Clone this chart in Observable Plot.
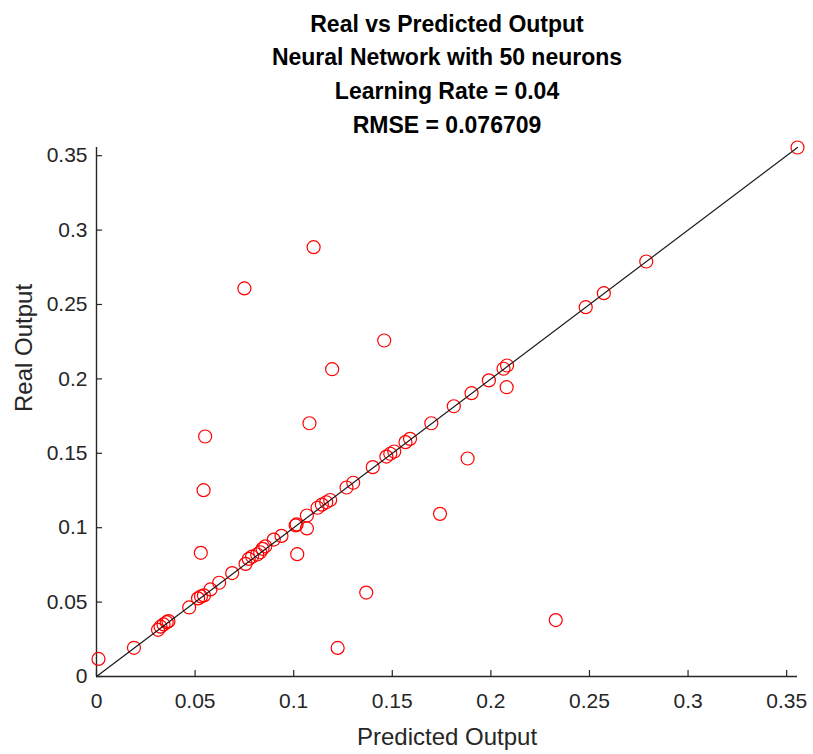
<!DOCTYPE html>
<html>
<head>
<meta charset="utf-8">
<script src="https://cdn.jsdelivr.net/npm/d3@7"></script>
<script src="https://cdn.jsdelivr.net/npm/@observablehq/plot@0.6"></script>
<style>
  html, body { margin: 0; padding: 0; background: #fff; }
  #chart svg { display: block; font-family: "Liberation Sans", Arial, sans-serif; }
</style>
</head>
<body>
<div id="chart"></div>
<script>
// Network prediction vs. measured value for each test sample
const predicted = [
  0.0010, 0.0190, 0.0312, 0.0325, 0.0340, 0.0356, 0.0365, 0.0470, 0.0515, 0.0530,
  0.0545, 0.0578, 0.0622, 0.0688, 0.0756, 0.0772, 0.0789, 0.0815, 0.0830, 0.0842,
  0.0856, 0.0899, 0.0938, 0.1010, 0.1015, 0.1067, 0.1121, 0.1143, 0.1165, 0.1185,
  0.1268, 0.1302, 0.1401, 0.1470, 0.1490, 0.1510, 0.1567, 0.1590, 0.1698, 0.1812,
  0.1902, 0.1990, 0.2064, 0.2082, 0.2481, 0.2573, 0.2788, 0.3555,
  0.1101, 0.0750, 0.1459, 0.1195, 0.0551, 0.1080, 0.0543, 0.1882, 0.2080, 0.1742,
  0.1067, 0.1018, 0.0529, 0.1368, 0.2329, 0.1223
];
const real = [
  0.0118, 0.0193, 0.0314, 0.0335, 0.0350, 0.0365, 0.0372, 0.0464, 0.0525, 0.0538,
  0.0545, 0.0585, 0.0630, 0.0695, 0.0757, 0.0790, 0.0806, 0.0820, 0.0835, 0.0858,
  0.0875, 0.0920, 0.0945, 0.1015, 0.1022, 0.1082, 0.1134, 0.1155, 0.1171, 0.1186,
  0.1270, 0.1302, 0.1407, 0.1478, 0.1497, 0.1512, 0.1575, 0.1597, 0.1702, 0.1816,
  0.1904, 0.1990, 0.2068, 0.2090, 0.2482, 0.2576, 0.2789, 0.3555,
  0.2885, 0.2608, 0.2258, 0.2065, 0.1613, 0.1702, 0.1252, 0.1465, 0.1944, 0.1093,
  0.0995, 0.0822, 0.0831, 0.0564, 0.0379, 0.0192
];
const axisTicks = [0, 0.05, 0.1, 0.15, 0.2, 0.25, 0.3, 0.35];
const tickLabels = ["0", "0.05", "0.1", "0.15", "0.2", "0.25", "0.3", "0.35"];
const titleLines = [
  "Real vs Predicted Output",
  "Neural Network with 50 neurons",
  "Learning Rate = 0.04",
  "RMSE = 0.076709"
];
const xLabel = "Predicted Output";
const yLabel = "Real Output";

const samples = predicted.map((p, i) => ({predicted: p, real: real[i]}));
const upper = d3.max([...predicted, ...real]);
const identity = [{v: 0}, {v: upper}];
const fmt = (d) => tickLabels[axisTicks.indexOf(d)] ?? String(d);

const ink = "#262626";

const chart = Plot.plot({
  width: 813,
  height: 754,
  marginLeft: 96,
  marginRight: 16,
  marginTop: 147,
  marginBottom: 78,
  style: {fontFamily: "'Liberation Sans', Arial, sans-serif", background: "#fff"},
  x: {domain: [0, upper]},
  y: {domain: [0, upper]},
  marks: [
    Plot.axisX(axisTicks, {
      anchor: "bottom", tickSize: -6, tickPadding: 23, tickFormat: fmt,
      label: null, fontSize: 21, color: ink, stroke: ink, strokeWidth: 1.2
    }),
    Plot.axisY(axisTicks, {
      anchor: "left", tickSize: -6, tickPadding: 15, tickFormat: fmt,
      label: null, fontSize: 21, color: ink, stroke: ink, strokeWidth: 1.2
    }),
    Plot.ruleY([0], {stroke: ink, strokeWidth: 1.4}),
    Plot.ruleX([0], {stroke: ink, strokeWidth: 1.4}),
    Plot.dot(samples, {
      x: "predicted", y: "real", r: 6.5,
      stroke: "#ff0000", strokeWidth: 1.2, fill: "none"
    }),
    Plot.line(identity, {x: "v", y: "v", stroke: "#1a1a1a", strokeWidth: 1.2}),
    Plot.text([titleLines.join("\n")], {
      frameAnchor: "top", lineAnchor: "middle", dy: -76, lineHeight: 1.46,
      fontSize: 23, fontWeight: "bold", fill: "#000"
    }),
    Plot.text([xLabel], {
      frameAnchor: "bottom", lineAnchor: "middle", dy: 61,
      fontSize: 24, fill: ink
    }),
    Plot.text([yLabel], {
      frameAnchor: "left", dx: -72, rotate: -90,
      fontSize: 24, fill: ink
    })
  ]
});

document.getElementById("chart").append(chart);
</script>
</body>
</html>
